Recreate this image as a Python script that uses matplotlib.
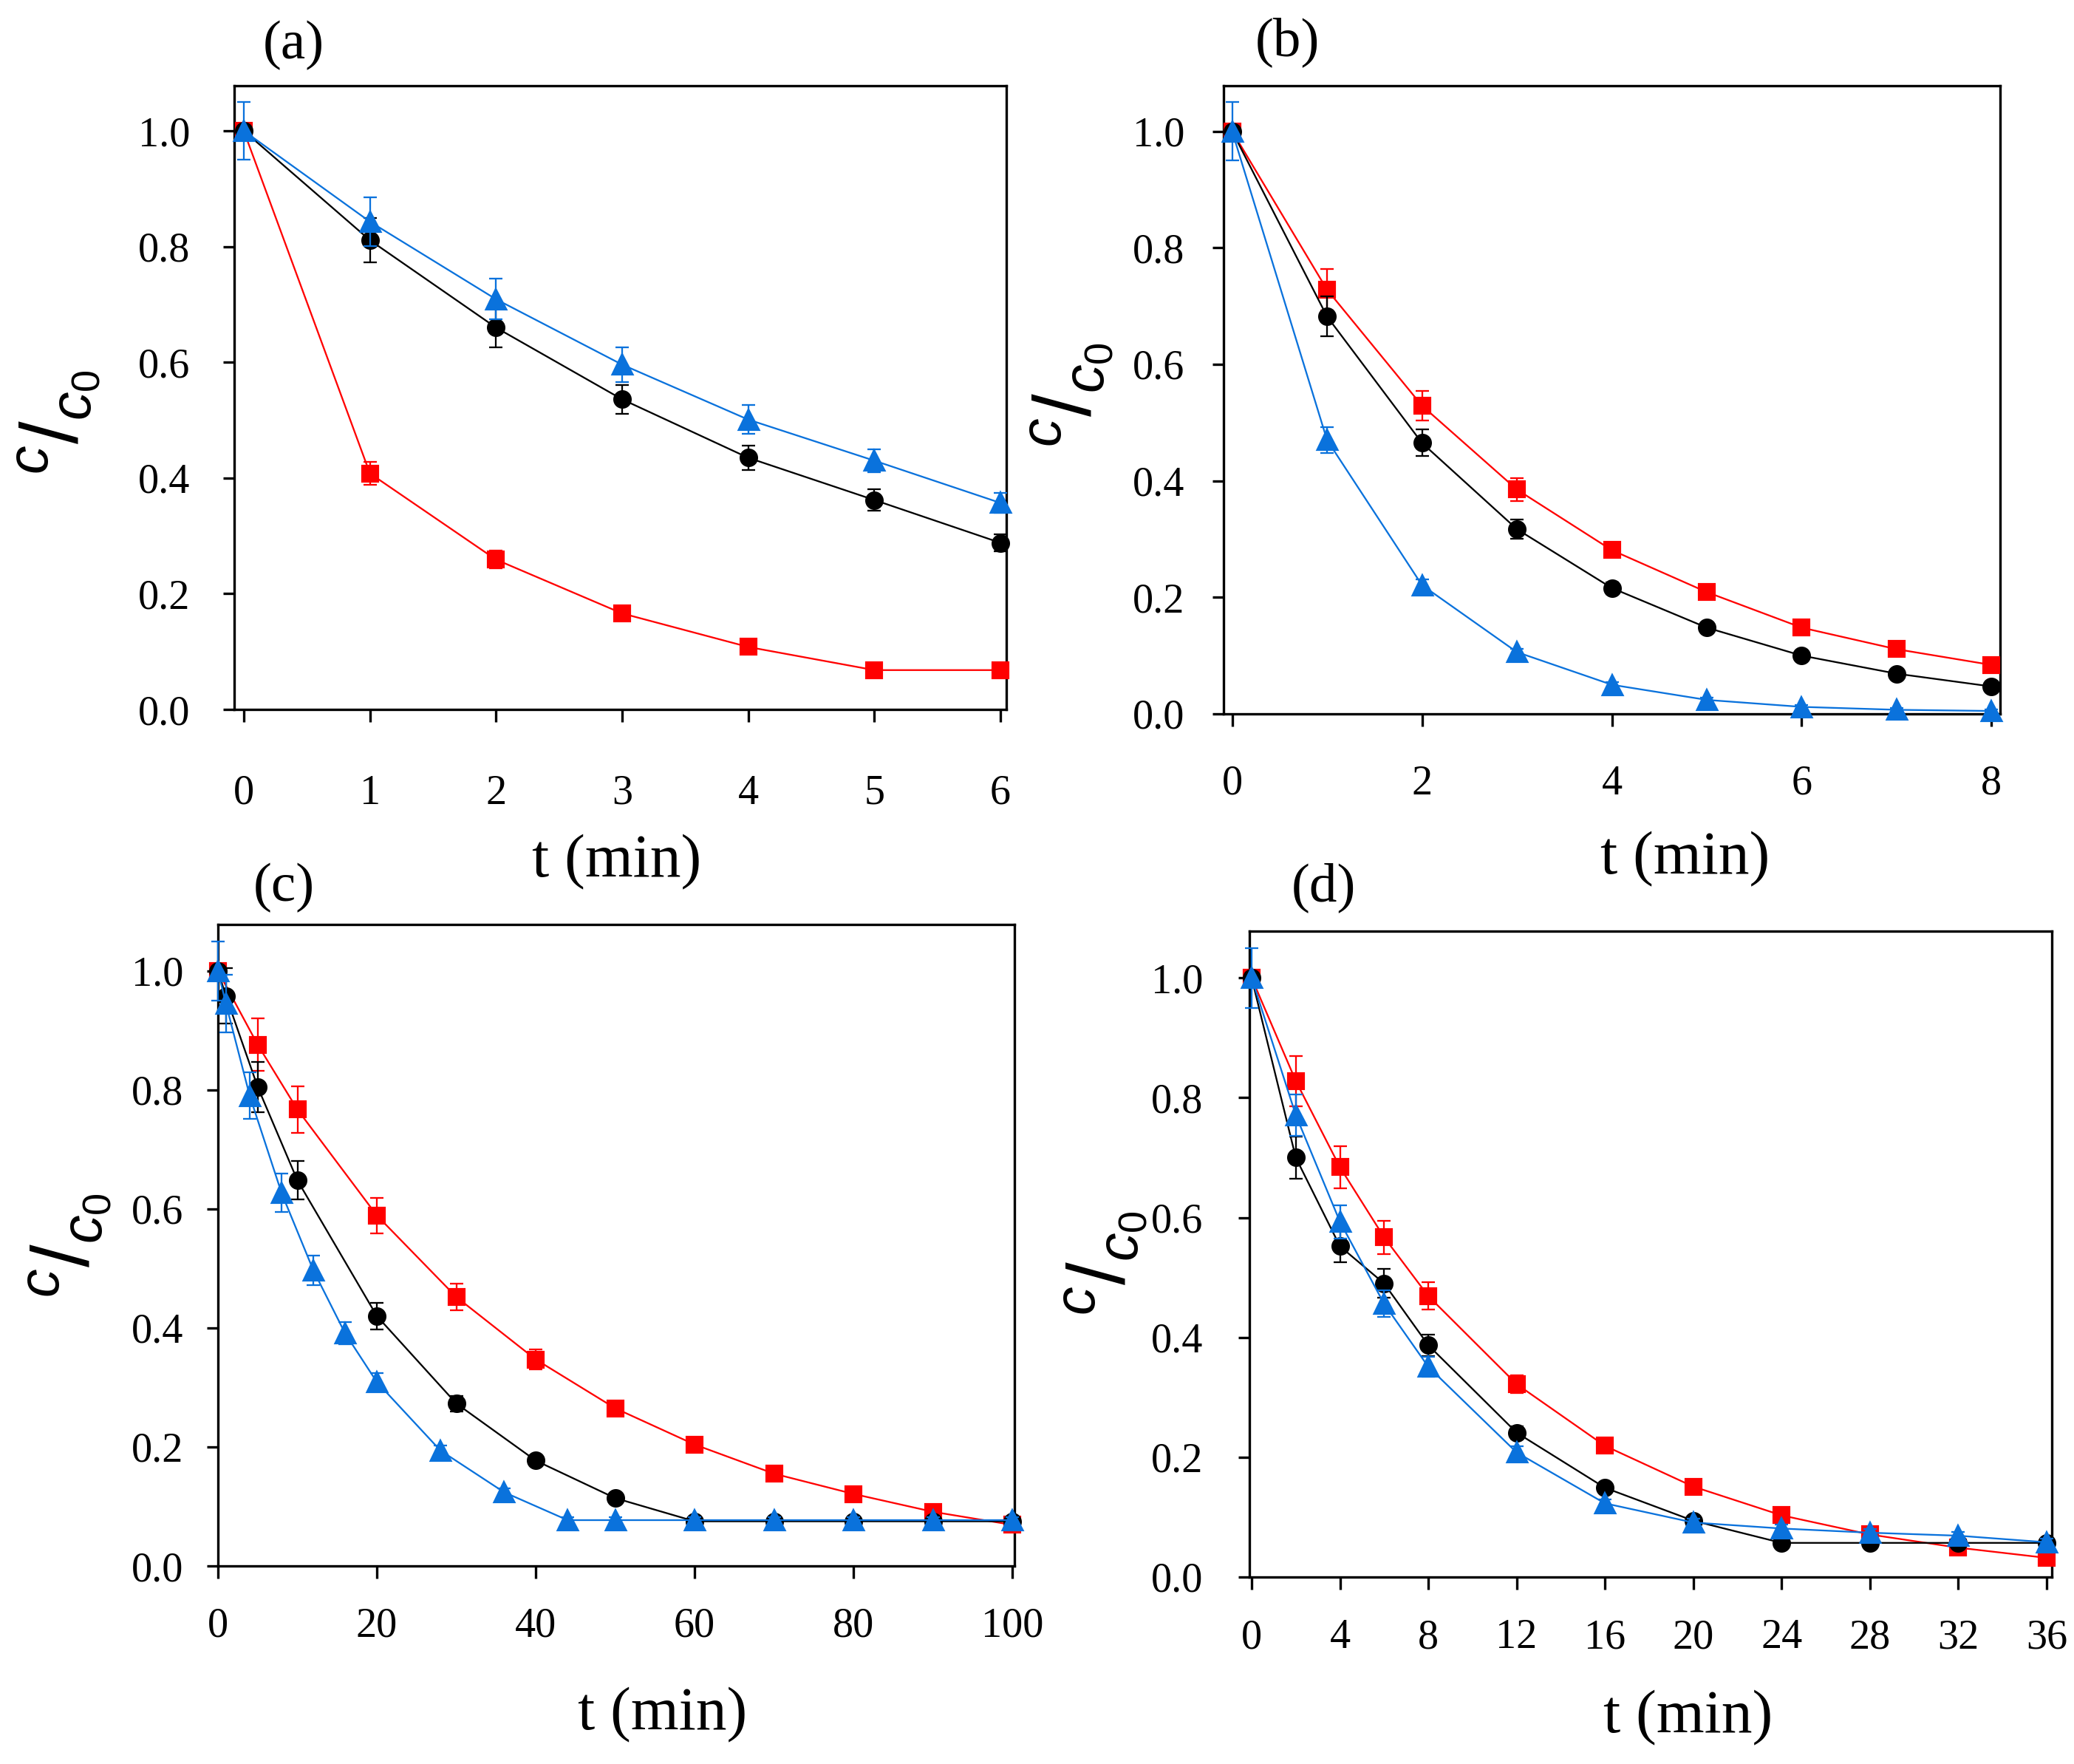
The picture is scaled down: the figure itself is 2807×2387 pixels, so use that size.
import matplotlib
matplotlib.use("Agg")
import matplotlib.pyplot as plt
import numpy as np

plt.rcParams["mathtext.fontset"] = "custom"
plt.rcParams["mathtext.it"] = "Liberation Sans:italic"
plt.rcParams["mathtext.rm"] = "Liberation Sans"

W, H = 2807, 2387
DPI = 300

# ---------------- data ----------------
# panel (a)
t_a = [0, 1, 2, 3, 4, 5, 6]
red_a = [1.0, 0.408, 0.259, 0.166, 0.108, 0.068, 0.068]
red_a_err = [0.0, 0.02, 0.015, 0.008, 0.008, 0.006, 0.006]
black_a = [1.0, 0.811, 0.660, 0.536, 0.435, 0.362, 0.288]
black_a_err = [0.0, 0.038, 0.034, 0.025, 0.021, 0.018, 0.015]
blue_a = [1.0, 0.843, 0.709, 0.596, 0.501, 0.430, 0.357]
blue_a_err = [0.05, 0.042, 0.035, 0.03, 0.025, 0.02, 0.017]

# panel (b)
t_b = [0, 1, 2, 3, 4, 5, 6, 7, 8]
red_b = [1.0, 0.728, 0.529, 0.385, 0.281, 0.209, 0.148, 0.111, 0.084]
red_b_err = [0.0, 0.035, 0.025, 0.02, 0.012, 0.006, 0.006, 0.006, 0.006]
black_b = [1.0, 0.682, 0.465, 0.317, 0.216, 0.148, 0.100, 0.069, 0.047]
black_b_err = [0.0, 0.034, 0.023, 0.016, 0.01, 0.006, 0.006, 0.005, 0.005]
blue_b = [1.0, 0.470, 0.221, 0.106, 0.050, 0.024, 0.012, 0.007, 0.005]
blue_b_err = [0.05, 0.022, 0.01, 0.006, 0.005, 0.004, 0.003, 0.003, 0.003]

# panel (c)
t_c_red = [0, 5, 10, 20, 30, 40, 50, 60, 70, 80, 90, 100]
red_c = [1.0, 0.876, 0.767, 0.589, 0.452, 0.347, 0.265, 0.204, 0.155, 0.121, 0.091, 0.069]
red_c_err = [0.0, 0.044, 0.039, 0.03, 0.022, 0.017, 0.012, 0.006, 0.006, 0.006, 0.006, 0.006]
t_c_black = [0, 1, 5, 10, 20, 30, 40, 50, 60, 70, 80, 90, 100]
black_c = [1.0, 0.958, 0.805, 0.648, 0.420, 0.273, 0.177, 0.114, 0.075, 0.075, 0.075, 0.075, 0.075]
black_c_err = [0.0, 0.047, 0.042, 0.032, 0.022, 0.013, 0.008, 0.008, 0.006, 0.006, 0.006, 0.006, 0.006]
t_c_blue = [0, 1, 4, 8, 12, 16, 20, 28, 36, 44, 50, 60, 70, 80, 90, 100]
blue_c = [1.0, 0.945, 0.79, 0.627, 0.497, 0.391, 0.309, 0.194, 0.124, 0.077, 0.077, 0.077, 0.077, 0.077, 0.077, 0.077]
blue_c_err = [0.05, 0.048, 0.039, 0.032, 0.025, 0.019, 0.015, 0.008, 0.006, 0.005, 0.005, 0.005, 0.005, 0.005, 0.005, 0.005]

# panel (d)
t_d = [0, 2, 4, 6, 8, 12, 16, 20, 24, 28, 32, 36]
red_d = [1.0, 0.828, 0.684, 0.567, 0.469, 0.322, 0.219, 0.151, 0.103, 0.071, 0.049, 0.032]
red_d_err = [0.0, 0.042, 0.035, 0.028, 0.023, 0.015, 0.008, 0.006, 0.006, 0.006, 0.006, 0.006]
black_d = [1.0, 0.700, 0.552, 0.490, 0.387, 0.241, 0.149, 0.094, 0.057, 0.057, 0.057, 0.057]
black_d_err = [0.0, 0.035, 0.027, 0.024, 0.018, 0.01, 0.008, 0.006, 0.005, 0.005, 0.005, 0.005]
blue_d = [1.0, 0.771, 0.593, 0.456, 0.351, 0.208, 0.123, 0.091, 0.081, 0.074, 0.069, 0.058]
blue_d_err = [0.05, 0.035, 0.028, 0.022, 0.017, 0.01, 0.006, 0.006, 0.006, 0.006, 0.006, 0.006]

xticks_a = [0, 1, 2, 3, 4, 5, 6]
xticks_b = [0, 2, 4, 6, 8]
xticks_c = [0, 20, 40, 60, 80, 100]
xticks_d = [0, 4, 8, 12, 16, 20, 24, 28, 32, 36]
yticks = [0.0, 0.2, 0.4, 0.6, 0.8, 1.0]
panel_labels = ["(a)", "(b)", "(c)", "(d)"]
xlabel_text = "t (min)"
ylabel_text = r"${}^{c}/{}_{c_{0}}$"

RED = "#FF0000"
BLACK = "#000000"
BLUE = "#0A72DC"

SERIF = "Liberation Serif"

fig = plt.figure(figsize=(W / DPI, H / DPI), dpi=DPI)


def px2fig(x, y):
    return x / W, 1 - y / H


def make_axes(l, t, r, b):
    x0, y1 = px2fig(l, t)
    x1, y0 = px2fig(r, b)
    return fig.add_axes([x0, y0, x1 - x0, y1 - y0])


panels = [
    dict(box=(317, 116, 1362, 960), xlim=(-0.076, 6.047), xticks=xticks_a, xpad=17, ypad=10.8,
         series=[(t_a, red_a, red_a_err, RED, "s"), (t_a, black_a, black_a_err, BLACK, "o"),
                 (t_a, blue_a, blue_a_err, BLUE, "^")],
         lab=(397, 61), xl=(835, 1167), yl=(80, 572)),
    dict(box=(1656, 116, 2707, 966), xlim=(-0.09, 8.09), xticks=xticks_b, xpad=12.5, ypad=9,
         series=[(t_b, red_b, red_b_err, RED, "s"), (t_b, black_b, black_b_err, BLACK, "o"),
                 (t_b, blue_b, blue_b_err, BLUE, "^")],
         lab=(1742, 57), xl=(2281, 1163), yl=(1451, 535)),
    dict(box=(295, 1251, 1373, 2119), xlim=(0, 100.25), xticks=xticks_c, xpad=9.4, ypad=7.7,
         series=[(t_c_red, red_c, red_c_err, RED, "s"), (t_c_black, black_c, black_c_err, BLACK, "o"),
                 (t_c_blue, blue_c, blue_c_err, BLUE, "^")],
         lab=(384, 1201), xl=(897, 2321), yl=(95, 1686)),
    dict(box=(1691, 1260, 2777, 2134), xlim=(-0.1, 36.24), xticks=xticks_d, xpad=9.5, ypad=11.5,
         series=[(t_d, red_d, red_d_err, RED, "s"), (t_d, black_d, black_d_err, BLACK, "o"),
                 (t_d, blue_d, blue_d_err, BLUE, "^")],
         lab=(1791, 1201), xl=(2285, 2325), yl=(1497, 1710)),
]

msizes = {"s": 4.6, "o": 5.0, "^": 6.0}

for i, p in enumerate(panels):
    ax = make_axes(*p["box"])
    for z, (t, y, e, c, m) in enumerate(p["series"]):
        ax.errorbar(t, y, yerr=e, fmt="-" + m, color=c, ms=msizes[m], lw=0.55,
                    elinewidth=0.55, capsize=2.1, capthick=0.55, mec=c, mfc=c,
                    zorder=3 + z, clip_on=False)
    ax.set_xlim(*p["xlim"])
    ax.set_ylim(0, 1.078)
    ax.set_xticks(p["xticks"])
    ax.set_xticklabels([str(v) for v in p["xticks"]])
    ax.set_yticks(yticks)
    ax.set_yticklabels(["%.1f" % v for v in yticks])
    for s in ax.spines.values():
        s.set_linewidth(0.8)
    ax.tick_params(axis="x", direction="out", length=4, width=0.8, pad=p["xpad"],
                   labelsize=13.5, top=False)
    ax.tick_params(axis="y", direction="out", length=3.6, width=0.8, pad=p["ypad"],
                   labelsize=13.5, right=False)
    for lbl in ax.get_xticklabels() + ax.get_yticklabels():
        lbl.set_fontfamily(SERIF)

    # panel label
    fx, fy = px2fig(*p["lab"])
    fig.text(fx, fy, panel_labels[i], fontsize=18, family=SERIF, ha="center", va="center")
    # x label
    fx, fy = px2fig(*p["xl"])
    fig.text(fx, fy, xlabel_text, fontsize=20, family=SERIF, ha="center", va="center")
    # y label  c / c0  (c raised, c0 lowered)
    fx, fy = px2fig(*p["yl"])
    fig.text(fx, fy, ylabel_text, fontsize=26.5, rotation=90,
             rotation_mode="anchor", ha="center", va="center")

fig.savefig("out.png", dpi=DPI)
